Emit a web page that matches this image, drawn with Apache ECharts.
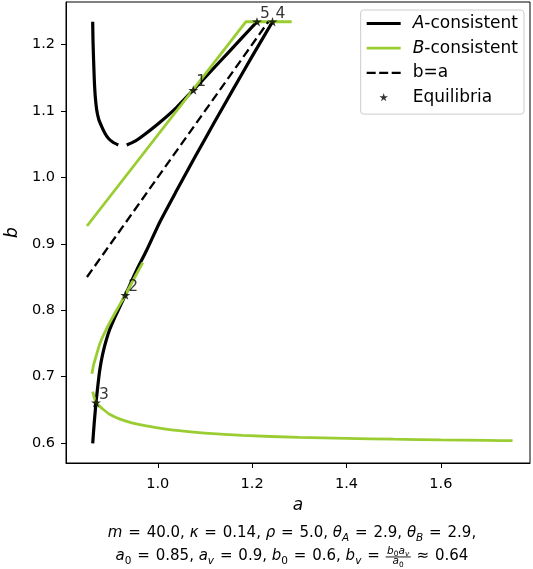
<!DOCTYPE html>
<html><head><meta charset="utf-8">
<script src="https://cdn.jsdelivr.net/npm/echarts@6/dist/echarts.min.js"></script>
<style>html,body{margin:0;padding:0;background:#fff}#c{width:533px;height:569px}</style>
</head><body><div id="c"></div>
<script>
// ---------------- data ----------------
const xTicks = [1.0, 1.2, 1.4, 1.6];
const yTicks = [0.6, 0.7, 0.8, 0.9, 1.0, 1.1, 1.2];

const aLeftArm = [[0.8621,1.2343],[0.8627,1.2068],[0.8640,1.1767],[0.8655,1.1466],[0.8676,1.1210],[0.8706,1.1014],[0.8750,1.0871],[0.8812,1.0763],[0.8877,1.0668],[0.8952,1.0588],[0.9051,1.0528],[0.9163,1.0487]];
const aRightArm = [[0.9342,1.0487],[0.9520,1.0545],[0.9693,1.0630],[1.0047,1.0830],[1.0401,1.1055],[1.0753,1.1315],[1.1107,1.1584],[1.1500,1.1883],[1.2103,1.2343]];
const aLowerBranch = [[0.8621,0.5997],[0.8653,0.6302],[0.8691,0.6608],[0.8725,0.6829],[0.8761,0.7051],[0.8803,0.7236],[0.8852,0.7401],[0.8909,0.7552],[0.8977,0.7702],[0.9064,0.7853],[0.9163,0.8003],[0.9312,0.8229],[0.9554,0.8605],[0.9767,0.8906],[1.0047,0.9332],[1.0400,0.9801],[1.0800,1.0321],[1.1200,1.0829],[1.1600,1.1329],[1.2000,1.1821],[1.2432,1.2343]];

const bMainLine = [[0.8500,0.9268],[1.1870,1.2343],[1.2839,1.2343]];
const bMiddleBranch = [[0.8605,0.7045],[0.8635,0.7160],[0.8670,0.7251],[0.8776,0.7502],[0.8900,0.7702],[0.9130,0.8003],[0.9312,0.8229],[0.9481,0.8455],[0.9681,0.8716]];
const bLowerBranch = [[0.8621,0.6774],[0.8655,0.6680],[0.8691,0.6608],[0.8760,0.6560],[0.8846,0.6505],[0.8988,0.6430],[0.9200,0.6360],[0.9450,0.6305],[0.9700,0.6265],[1.0000,0.6230],[1.0400,0.6190],[1.1000,0.6150],[1.1800,0.6115],[1.3000,0.6085],[1.4000,0.6070],[1.5000,0.6058],[1.6000,0.6048],[1.7000,0.6040],[1.7520,0.6036]];

const diagonal = [[0.85,0.85],[1.2343,1.2343]];

const equilibria = [[1.0753,1.1315,'1'],[0.9312,0.8229,'2'],[0.8691,0.6608,'3'],[1.2432,1.2343,'4'],[1.2103,1.2343,'5']];

const legendNames = ['A-consistent','B-consistent','b=a','Equilibria'];

// parameter caption tokens: [text, style]  r=roman i=italic sr/si=subscript, rel=relation
const captionLine1 = [['m','i'],['=','rel'],['40.0, ','r'],['κ','i'],['=','rel'],['0.14, ','r'],['ρ','i'],['=','rel'],['5.0, ','r'],['θ','i'],['A','si'],['=','rel'],['2.9, ','r'],['θ','i'],['B','si'],['=','rel'],['2.9,','r']];
const fracNum = [['b','i'],['0','sr'],['a','i'],['v','si']];
const fracDen = [['a','i'],['0','sr']];
const captionLine2 = [['a','i'],['0','sr'],['=','rel'],['0.85, ','r'],['a','i'],['v','si'],['=','rel'],['0.9, ','r'],['b','i'],['0','sr'],['=','rel'],['0.6, ','r'],['b','i'],['v','si'],['=','rel'],['frac',fracNum,fracDen],['≈','rel'],['0.64','r']];

// ---------------- styling ----------------
const FONT = 'DejaVu Sans';
const GREEN = '#9acd32';
const BLACK = '#000000';

function starPath(cx, cy, R) {
  const r = R * 0.381966; let d = '';
  for (let i = 0; i < 10; i++) {
    const ang = Math.PI / 2 + i * Math.PI / 5;
    const rr = (i % 2) ? r : R;
    d += (i ? 'L' : 'M') + (cx + rr * Math.cos(ang)).toFixed(3) + ',' + (cy - rr * Math.sin(ang)).toFixed(3);
  }
  return d + 'Z';
}
const ICON_W = 41, ICON_H = 14;
const anchor = 'M0,0M' + ICON_W + ',' + ICON_H;
function solidIcon(h) { const y0 = 7 - h / 2, y1 = 7 + h / 2; return 'path://' + anchor + 'M0,' + y0 + 'L34,' + y0 + 'L34,' + y1 + 'L0,' + y1 + 'Z'; }
function dashIcon(h) {
  const y0 = 7 - h / 2, y1 = 7 + h / 2; let d = 'path://' + anchor;
  [[0, 9], [12.5, 21.5], [25, 34]].forEach(([a, b]) => { d += 'M' + a + ',' + y0 + 'L' + b + ',' + y0 + 'L' + b + ',' + y1 + 'L' + a + ',' + y1 + 'Z'; });
  return d;
}
const starIcon = 'path://' + anchor + starPath(17, 7, 4.5);

function lineSeries(name, data, color, width, type, smooth, z) {
  return { type: 'line', name, data, symbol: 'none', showSymbol: false, smooth: smooth || false,
    lineStyle: { color, width, type: type || 'solid', cap: 'butt' }, itemStyle: { color },
    z: z, silent: true, animation: false, clip: false };
}

// ---------------- caption layout ----------------
const cv = document.createElement('canvas'); const ctx = cv.getContext('2d');
function measure(t, it, size) { ctx.font = (it ? 'italic ' : '') + size + 'px "' + FONT + '"'; return ctx.measureText(t).width; }
const BASE = 15, SHRINK = 0.7, MID = 0.32;
function runItems(tokens, scale) {
  const items = []; let x = 0;
  tokens.forEach(tok => {
    const st = tok[1];
    if (tok[0] === 'frac') {
      const num = runItems(tok[1], scale * SHRINK), den = runItems(tok[2], scale * SHRINK);
      const pad = 1.5, w = Math.max(num.width, den.width) + 2 * pad;
      items.push({ frac: true, x, w, num, den, scale });
      x += w; return;
    }
    if (st === 'rel') {
      const size = BASE * scale, gap = 0.39 * size, w = measure(tok[0], false, size);
      items.push({ t: tok[0], it: false, size, x: x + gap, dy: 0 });
      x += w + 2 * gap; return;
    }
    const sub = st[0] === 's', it = st[st.length - 1] === 'i';
    const size = BASE * scale * (sub ? SHRINK : 1);
    const w = measure(tok[0], it, size);
    items.push({ t: tok[0], it, size, x, dy: sub ? 0.24 * BASE * scale : 0 });
    x += w;
  });
  return { items, width: x };
}
function emit(run, x0, baseline, out) {
  run.items.forEach(it => {
    if (it.frac) {
      const bar = baseline - 0.27 * BASE * it.scale;
      out.push({ type: 'line', shape: { x1: x0 + it.x, y1: bar, x2: x0 + it.x + it.w, y2: bar }, style: { stroke: BLACK, lineWidth: 0.9 }, silent: true });
      emit(it.num, x0 + it.x + (it.w - it.num.width) / 2, bar - 2.6, out);
      emit(it.den, x0 + it.x + (it.w - it.den.width) / 2, bar + 7.8, out);
      return;
    }
    out.push({ type: 'text', x: x0 + it.x, y: baseline + it.dy - MID * it.size, silent: true,
      style: { text: it.t, fill: BLACK, fontFamily: FONT, fontSize: it.size, fontStyle: it.it ? 'italic' : 'normal',
        align: 'left', verticalAlign: 'middle', textAlign: 'left', textVerticalAlign: 'middle' } });
  });
}
function caption(tokens, cx, baseline, out) { const run = runItems(tokens, 1); emit(run, cx - run.width / 2, baseline, out); }
const graphics = [];
caption(captionLine1, 292, 538, graphics);
caption(captionLine2, 292, 561, graphics);

// ---------------- chart ----------------
const chart = echarts.init(document.getElementById('c'), null, { renderer: 'canvas' });
const tickLabel = { fontFamily: FONT, fontSize: 14.5, color: BLACK };
chart.setOption({
  animation: false,
  backgroundColor: '#ffffff',
  grid: { left: 66, right: 3, top: 2, bottom: 106, show: true, borderColor: BLACK, borderWidth: 1, containLabel: false, outerBoundsMode: 'none' },
  xAxis: {
    type: 'value', min: 0.8055, max: 1.789,
    axisLine: { show: true, lineStyle: { color: BLACK, width: 1 } },
    splitLine: { show: false },
    axisTick: { show: true, inside: false, length: 5, lineStyle: { color: BLACK, width: 1 }, customValues: xTicks },
    axisLabel: Object.assign({ customValues: xTicks, formatter: v => v.toFixed(1), margin: 14, lineHeight: 15 }, tickLabel),
    name: 'a', nameLocation: 'middle', nameGap: 42,
    nameTextStyle: { fontFamily: FONT, fontStyle: 'italic', fontSize: 17, color: BLACK, verticalAlign: 'middle' }
  },
  yAxis: {
    type: 'value', min: 0.570, max: 1.264,
    axisLine: { show: true, lineStyle: { color: BLACK, width: 1 } },
    splitLine: { show: false },
    axisTick: { show: true, inside: false, length: 5, lineStyle: { color: BLACK, width: 1 }, customValues: yTicks },
    axisLabel: Object.assign({ customValues: yTicks, formatter: v => v.toFixed(1), margin: 11 }, tickLabel),
    name: 'b', nameLocation: 'middle', nameGap: 52, nameRotate: 90,
    nameTextStyle: { fontFamily: FONT, fontStyle: 'italic', fontSize: 17, color: BLACK, verticalAlign: 'middle' }
  },
  legend: {
    orient: 'vertical', right: 9, top: 10, padding: [5, 6, 8, 6], itemGap: 7.7,
    itemWidth: ICON_W, itemHeight: ICON_H, selectedMode: false,
    backgroundColor: 'rgba(255,255,255,0.8)', borderColor: '#cccccc', borderWidth: 1, borderRadius: 3,
    textStyle: { fontFamily: FONT, fontSize: 17, color: BLACK, lineHeight: 17,
      rich: { i: { fontFamily: FONT, fontSize: 17, fontStyle: 'italic', color: BLACK, lineHeight: 17 },
              n: { fontFamily: FONT, fontSize: 17, color: BLACK, lineHeight: 17 } } },
    formatter: name => { const m = name.match(/^([AB])(-.*)$/); return m ? '{i|' + m[1] + '}{n|' + m[2] + '}' : name; },
    data: [
      { name: legendNames[0], icon: solidIcon(3.2), itemStyle: { color: BLACK } },
      { name: legendNames[1], icon: solidIcon(2.8), itemStyle: { color: GREEN } },
      { name: legendNames[2], icon: dashIcon(2.3), itemStyle: { color: BLACK } },
      { name: legendNames[3], icon: starIcon, itemStyle: { color: BLACK } }
    ]
  },
  graphic: graphics,
  series: [
    lineSeries(legendNames[0], aLeftArm, BLACK, 3.2, 'solid', 0.2, 2),
    lineSeries(legendNames[0], aRightArm, BLACK, 3.2, 'solid', 0.2, 2),
    lineSeries(legendNames[0], aLowerBranch, BLACK, 3.2, 'solid', 0.2, 2),
    lineSeries(legendNames[1], bMainLine, GREEN, 2.8, 'solid', false, 3),
    lineSeries(legendNames[1], bMiddleBranch, GREEN, 2.8, 'solid', 0.2, 3),
    lineSeries(legendNames[1], bLowerBranch, GREEN, 2.8, 'solid', 0.2, 3),
    lineSeries(legendNames[2], diagonal, BLACK, 2.3, [9, 4.5], false, 3),
    {
      type: 'scatter', name: legendNames[3], data: equilibria, encode: { x: 0, y: 1 },
      symbol: 'path://' + starPath(10, 10, 10), symbolSize: 10, symbolKeepAspect: true,
      itemStyle: { color: BLACK }, z: 5, silent: true, animation: false,
      label: { show: true, formatter: p => p.value[2], position: [8, -3.4], align: 'left', verticalAlign: 'middle',
        fontFamily: FONT, fontSize: 15.5, color: BLACK }
    }
  ]
});
</script></body></html>
